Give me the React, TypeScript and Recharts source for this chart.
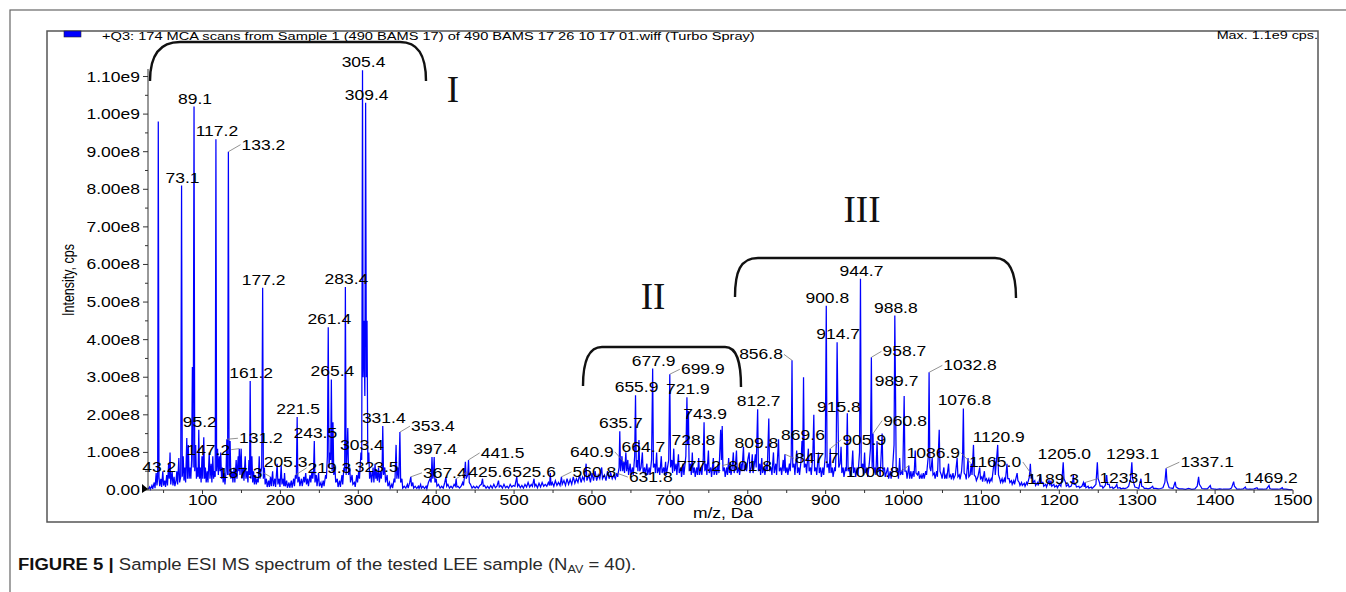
import React from "react";
import { ComposedChart, Line, Scatter, XAxis, YAxis } from "recharts";

type Pt = [number, number];

// m/z (Da) and intensity (units of 1e8 cps)
const lowMassProfile: Pt[] = [
  [30,0.02],[32,0.08],[33,0.02],[35,0.12],[36,0.03],[38,0.2],[39,0.05],[40.5,0.45],[41.5,0.12],[42.4,0.3],[43.2,9.8],[44.1,0.35],[45,0.1],[46.5,0.3],[47.5,0.08],[49,0.5],[50,0.12],[51.5,0.25],[52.5,0.08],[54,0.4],[55,0.12],[56.5,0.7],[57.3,0.3],[58.3,1.0],[59.2,0.15],[61,0.5],[62,0.12],[63.5,0.35],[64.5,0.1],[66,0.25],[67,0.5],[68,0.15],[69.6,0.85],[70.6,0.2],[72,0.35],[73.1,8.1],[74,0.35],[75.2,0.9],[76.2,0.25],[77.3,0.6],[78.3,0.2],[79.8,1.38],[80.7,0.3],[81.8,1.2],[82.8,0.3],[84,0.6],[85,0.3],[86,0.8],[87,3.27],[88,0.6],[89.1,10.2],[90,0.5],[91.2,1.2],[92.2,0.3],[93.5,0.6],[94.3,0.35],[95.2,1.6],[96.1,0.3],[97.2,0.6],[98.2,0.2],[99.3,0.9],[100.3,0.3],[101.6,1.4],[102.6,0.3],[103.7,0.6],[104.7,0.2],[106,0.5],[107,0.2],[108.6,1.0],[109.6,0.3],[111,0.7],[112,0.2],[113.2,0.9],[114.2,0.3],[115.5,0.5],[116.3,0.35],[117.2,9.33],[118.1,0.5],[119.3,1.1],[120.3,0.4],[121.5,0.9],[122.5,0.5],[123.4,1.0],[124.4,0.3],[125.5,0.6],[126.5,0.2],[127.8,0.45],[128.8,0.15],[130.2,0.5],[131.2,1.35],[132.2,0.4],[133.2,9.0],[134.1,0.4],[135.4,1.3],[136.4,0.3],[138,0.5],[139,0.2],[140.5,0.6],[141.5,0.2],[143.2,0.8],[144.2,0.3],[145.8,0.9],[146.5,0.5],[147.2,1.1],[148.1,0.4],[149.6,1.1],[150.6,0.3],[152.2,0.6],[153.2,0.25],[154.8,0.9],[155.8,0.3],[157.3,0.5],[158.3,0.2],[159.6,0.8],[160.4,0.4],[161.2,2.9],[162.1,0.3],[163.4,0.9],[164.4,0.2],[165.6,0.5],[166.6,0.15],[168,0.4],[169,0.15],[170.5,0.3],[171.5,0.2],[172.8,0.9],[173.8,0.3],[175,0.5],[176,0.6],[177.2,5.38],[178.1,0.3],[179.4,0.6],[180.4,0.15],[182,0.3],[183,0.08],[184.8,0.25],[185.8,0.08],[187.3,0.35],[188.3,0.1],[190,0.5],[191,0.1],[192.8,0.3],[193.8,0.08],[195.8,0.7],[196.8,0.15],[198.4,0.3],[199.4,0.08],[201,0.65],[202,0.15],[203.5,0.3],[204.4,0.1],[205.3,0.45],[206.3,0.1],[208,0.25],[209,0.06],[211,0.2],[212,0.06],[214,0.25],[215,0.06],[217,0.3],[218,0.1],[219.3,0.4],[220.4,0.3],[221.5,1.94],[222.4,0.2],[224,0.35],[225,0.1],[227,0.3],[228,0.1],[230,0.35],[231,0.2],[232.5,0.45],[233.5,0.15],[235,0.3],[236,0.1],[238,0.4],[239,0.2],[240.5,0.5],[241.5,0.3],[242.5,0.5],[243.5,1.3],[244.4,0.2],[246,0.4],[247,0.1],[249,0.45],[250,0.1],[252,0.2],[253,0.06],[255,0.25],[256,0.1],[258,0.4],[259,0.3],[260.3,0.9],[261.4,4.33],[262.4,0.6],[263.5,1.0],[264.5,0.8],[265.4,2.94],[266.4,0.5],[267.5,1.8],[268.5,0.4],[270,0.6],[271,0.2],[273,0.3],[274,0.08],[276,0.25],[277,0.08],[279,0.4],[280,0.15],[281.5,0.6],[282.5,0.5],[283.4,5.4],[284.4,0.4],[285.5,1.0],[286.5,1.65],[287.5,0.4],[289,0.6],[290,0.2],[292,0.4],[293,0.15],[295,0.2],[296,0.08],[298,0.4],[299,0.2],[300.5,0.5],[301.5,0.3],[303.4,1.0],[304.4,0.8],[305.4,11.17],[306.2,3.0],[307.2,4.5],[308.4,2.5],[309.4,10.3],[310.3,3.0],[311.2,4.5],[312.2,0.7],[313.5,1.0],[314.5,0.3],[316,0.5],[317,0.2],[319,0.6],[320,0.2],[321.5,0.7],[322.5,0.3],[323.5,0.5],[324.5,0.25],[326,0.6],[327,0.2],[328.5,0.5],[329.5,0.3],[330.5,0.5],[331.4,1.7],[332.4,0.4],[334,0.6],[335,0.2],[337,0.4],[338,0.1],[340,0.2],[341,0.05],[343,0.15],[344,0.05],[346,0.3],[347,0.2],[348.5,1.2],[349.5,0.3],[351,0.6],[352,0.3],[353.4,1.54],[354.4,0.2],[356,0.3],[357,0.05],[359,0.1],[361,0.05],[363,0.15],[364,0.05],[366,0.2],[367.4,0.35],[368.4,0.1],[370,0.2],[371,0.05],[373,0.1],[375,0.04],[377,0.1],[378,0.04],[380,0.15],[381,0.05],[383,0.1],[385,0.04],[387,0.1],[388,0.03],[390,0.2],[392,0.3],[393.5,0.2],[394.6,0.88],[395.6,0.3],[396.5,0.4],[397.4,0.88],[398.4,0.2],[400,0.3],[401,0.1],[403,0.15],[405,0.05],[407,0.1],[409,0.05],[411,0.2],[412.5,0.35],[413.5,0.1],[415,0.15],[417,0.05],[419,0.1],[421,0.05],[423,0.15],[424.5,0.1],[425.6,0.3],[426.6,0.08],[428,0.1],[430,0.05],[432,0.1],[434,0.2],[435,0.12],[436,0.3],[437.5,0.75],[438.5,0.3],[440.5,0.4],[441.5,0.8],[442.5,0.2],[444,0.15],[446,0.05],[448,0.1],[450,0.05],[452,0.1],[454,0.05],[456,0.12],[458,0.15],[459.5,0.3],[460.5,0.1],[462,0.12],[464,0.05],
];

const midMassProfile: Pt[] = [
  [466,0.1],[468,0.04],[470,0.12],[472,0.05],[474,0.15],[476,0.06],[478,0.1],[480,0.25],[481,0.08],[483,0.12],[485,0.05],[487,0.15],[489,0.06],[491,0.1],[493,0.05],[495,0.15],[497,0.08],[499,0.12],[501,0.1],[503.5,0.35],[504.5,0.1],[506,0.15],[508,0.06],[510,0.12],[512,0.05],[514,0.15],[516,0.08],[518,0.2],[520,0.08],[522,0.15],[523.5,0.1],[525.6,0.3],[526.6,0.1],[528,0.15],[530,0.06],[532,0.18],[534,0.08],[536,0.2],[538,0.1],[540,0.15],[542,0.1],[544,0.2],[545.5,0.12],[546.5,0.45],[547.5,0.12],[549,0.2],[551,0.1],[553,0.25],[555,0.12],[557,0.2],[559,0.12],[560.8,0.35],[561.8,0.15],[564,0.25],[566,0.12],[568,0.3],[570,0.15],[572,0.28],[574,0.15],[576,0.35],[578,0.18],[580,0.3],[582,0.2],[584,0.4],[586,0.2],[588,0.35],[590,0.25],[592.5,0.7],[593.5,0.25],[596,0.4],[598,0.2],[600,0.45],[602,0.25],[604,0.5],[606,0.25],[608,0.4],[610,0.3],[612.5,0.6],[613.5,0.3],[616,0.4],[618,0.25],[620,0.5],[622,0.3],[624,0.45],[626,0.3],[628,0.4],[630,0.3],[631.8,0.45],[633,0.35],[634.8,0.6],[635.7,1.56],[636.7,0.5],[638.5,0.9],[639.5,0.5],[640.9,0.75],[641.8,0.45],[643.5,1.0],[644.5,0.5],[646,0.8],[647,0.4],[649,0.7],[650,0.4],[652,0.6],[653,0.4],[654.8,0.9],[655.9,2.52],[656.9,0.6],[658,0.8],[659,0.5],[660.3,1.33],[661.3,0.5],[663,0.6],[664.7,1.0],[665.7,0.45],[667.5,0.6],[668.5,0.4],[670.5,0.7],[671.5,0.4],[673.5,0.6],[674.5,0.4],[676.5,0.8],[677.9,3.23],[678.9,0.6],[680.5,0.7],[681.5,0.45],[683,1.0],[684,0.45],[686,0.6],[687,0.4],[689,0.9],[690,0.45],[692,0.6],[693,0.4],[694.5,0.75],[695.5,0.4],[697,0.6],[698.5,0.8],[699.9,3.08],[700.9,0.6],[702.5,0.8],[703.5,0.45],[705,1.1],[706,0.5],[708,0.7],[709,0.4],[711,0.95],[712,0.45],[714,0.6],[715,0.35],[717,0.7],[718,0.4],[720.5,0.9],[721.9,2.47],[722.8,1.2],[723.8,2.1],[724.8,0.5],[726.5,0.7],[727.5,0.4],[728.8,1.0],[729.8,0.45],[731.5,0.6],[732.5,0.35],[734.5,0.6],[735.5,0.4],[737,0.85],[738,0.4],[740,0.6],[741,0.4],[742.8,0.8],[743.9,1.8],[744.9,0.5],[746.5,0.7],[747.5,0.4],[749.5,1.05],[750.5,0.45],[752.5,0.6],[753.5,0.35],[755.8,0.85],[756.8,0.4],[759,0.6],[760,0.4],[762,0.7],[763,0.45],[765.2,1.6],[766.2,0.8],[767.2,1.7],[768.2,0.5],[770,0.6],[771,0.35],[773,0.6],[774,0.4],[775.5,0.85],[776.5,0.45],[777.2,0.7],[778.5,0.4],[780,0.6],[781.5,1.0],[782.5,0.45],[784,0.6],[785.5,1.05],[786.5,0.45],[788.5,0.6],[789.5,0.4],[791.5,0.7],[792.5,0.5],[794.5,1.15],[795.5,0.5],[797.5,0.7],[798.5,0.5],[800,0.8],[801.8,1.0],[802.8,0.45],[804.5,0.6],[805.8,0.95],[806.8,0.45],[808.5,0.7],[809.8,0.95],[810.8,0.6],[812.7,2.15],[813.7,0.5],[815.5,0.7],[816.5,0.4],[818,0.85],[819,0.45],[821,0.6],[822,0.4],[824,0.7],[825,0.5],[827,1.9],[828,0.5],[830,0.6],[831,0.4],[833,1.0],[834,0.45],[836,0.7],[837,0.4],[839.5,1.35],[840.5,0.5],[842.5,0.6],[843.5,0.4],[845.5,0.8],[846.5,0.5],[847.7,0.95],[848.7,0.45],[850.5,0.6],[851.5,0.4],[853.5,0.7],[854.5,0.5],[855.8,0.9],[856.8,3.45],[857.8,0.6],[859.5,0.7],[860.5,0.4],[862.8,1.05],[863.8,0.45],[865.5,0.6],[866.5,0.4],[868.5,0.8],[869.6,1.3],[870.6,0.9],[871.6,3.0],[872.6,0.6],[874.5,0.7],[875.5,0.45],[877.8,1.1],[878.8,0.5],[880.5,0.6],[881.5,0.4],[883.5,0.9],[884.8,2.0],[885.8,0.5],[887.5,0.6],[888.5,0.4],[890.8,1.0],[891.8,0.45],[893.5,0.6],[894.5,0.35],[896.5,0.6],[897.5,0.4],[899.5,0.9],[900.8,4.9],[901.8,0.6],[903.5,0.7],[904.5,0.45],[905.9,1.1],[906.9,0.45],[908.5,0.6],[909.5,0.35],[911.5,0.6],[912.5,0.5],[913.6,1.2],[914.7,3.93],[915.8,2.0],[916.8,0.6],[918.5,0.7],[919.8,1.15],[920.8,0.45],[922.5,0.6],[923.5,0.35],[925.5,0.6],[926.5,0.5],[927.8,2.04],[928.8,0.5],[930.5,0.6],[931.5,0.35],[933.5,0.6],[934.8,1.05],[935.8,0.45],[937.5,0.6],[938.5,0.35],[940.5,0.6],[941.5,0.4],[943.5,1.0],[944.7,5.62],[945.7,0.6],[947.5,0.7],[948.5,0.4],[950,1.0],[951,0.45],[953,0.6],[954,0.35],[956,0.7],[957.5,1.1],[958.7,3.53],[959.7,0.6],[960.8,1.5],[961.8,0.45],[963.5,0.6],[964.5,0.4],[966,1.3],[967,0.5],[969,0.6],[970,0.35],[972.5,1.5],[973.5,0.5],[975.5,0.6],[976.5,0.35],[978.5,0.5],[979.8,0.6],[980.8,0.3],[983,0.5],[984,0.3],[986,0.6],[987.8,1.2],[988.8,4.64],[989.7,2.6],[990.6,0.5],[992.5,0.5],[993.5,0.3],[995,0.85],[996,0.4],[998,0.5],[999,0.4],[1000.8,2.5],[1001.8,0.5],[1003.5,0.5],[1004.5,0.3],[1006.8,0.65],[1007.8,0.3],
];

const highMassProfile: Pt[] = [
  [1009.5,0.5],[1010.5,0.3],[1012.5,0.5],[1013.5,0.35],[1015,1.05],[1016,0.45],[1018,0.4],[1019.5,0.5],[1020.5,0.3],[1022.5,0.4],[1023.5,0.3],[1025.5,0.45],[1026.5,0.3],[1028.5,0.5],[1029.5,0.4],[1031.8,0.9],[1032.8,3.13],[1033.8,0.6],[1035,0.5],[1036.8,0.85],[1037.8,0.4],[1039.5,0.45],[1040.5,0.3],[1042.5,0.5],[1043.5,0.35],[1045.8,1.6],[1046.8,0.5],[1048.5,0.4],[1049.5,0.3],[1051.8,0.6],[1052.8,0.3],[1054.5,0.4],[1055.5,0.3],[1057.8,0.7],[1058.8,0.35],[1060.5,0.4],[1061.5,0.28],[1063.5,0.45],[1064.5,0.3],[1066.5,0.4],[1068.8,0.85],[1069.8,0.35],[1071.5,0.4],[1072.5,0.28],[1074.5,0.5],[1075.8,0.9],[1076.8,2.17],[1077.8,0.45],[1079.5,0.4],[1080.5,0.28],[1082.8,0.85],[1083.8,0.35],[1085.5,0.4],[1086.9,0.7],[1087.9,0.4],[1089.8,1.2],[1090.8,0.4],[1092.5,0.35],[1093.5,0.25],[1095.5,0.35],[1097.8,0.6],[1098.8,0.3],[1100.5,0.35],[1101.5,0.22],[1103.8,0.5],[1104.8,0.25],[1106.5,0.3],[1107.5,0.2],[1109.5,0.3],[1110.5,0.2],[1112.5,0.3],[1113.5,0.25],[1116.8,0.85],[1117.8,0.4],[1120.9,1.2],[1121.9,0.4],[1123.5,0.3],[1124.5,0.2],[1126.5,0.3],[1127.5,0.2],[1129.5,0.3],[1130.5,0.2],[1132.8,0.7],[1133.8,0.3],[1135.5,0.3],[1136.5,0.2],[1138.5,0.25],[1139.5,0.15],[1141.5,0.25],[1142.5,0.15],[1145.8,0.45],[1146.8,0.25],[1148.5,0.2],[1149.5,0.12],[1151.5,0.2],[1152.5,0.12],[1155,0.18],[1156,0.1],[1158,0.2],[1159,0.15],[1161.5,0.35],[1162.8,0.7],[1163.8,0.3],[1165,0.4],[1166.5,0.2],[1168.5,0.25],[1169.5,0.12],[1172,0.2],[1173,0.12],[1175.8,0.4],[1176.8,0.2],[1179,0.2],[1180,0.1],[1182.5,0.15],[1183.5,0.08],[1186.8,0.25],[1187.8,0.12],[1189.3,0.25],[1190.3,0.1],[1193,0.15],[1194,0.08],[1196.5,0.12],[1197.5,0.06],[1200,0.15],[1202,0.1],[1203.8,0.4],[1205,0.74],[1206,0.3],[1208,0.2],[1209,0.1],[1211.5,0.15],[1212.5,0.08],[1215,0.1],[1217,0.2],[1218,0.4],[1219,0.15],[1221,0.15],[1222,0.08],[1225,0.1],[1226,0.06],[1229,0.1],[1231,0.2],[1232,0.08],[1233.1,0.2],[1234.1,0.06],[1237,0.1],[1238,0.05],[1241,0.08],[1242,0.04],[1245,0.1],[1247,0.15],[1248.8,0.74],[1249.8,0.3],[1251.5,0.2],[1252.5,0.1],[1255,0.1],[1256,0.05],[1259,0.12],[1260.8,0.4],[1261.8,0.15],[1264,0.15],[1265,0.06],[1268,0.08],[1269,0.04],[1272,0.08],[1273.8,0.15],[1274.8,0.05],[1278,0.06],[1279,0.03],[1282,0.05],[1284,0.04],[1287,0.06],[1289,0.1],[1291.5,0.3],[1293.1,0.74],[1294.1,0.3],[1296,0.15],[1297,0.08],[1300,0.06],[1302,0.04],[1304.8,0.3],[1305.8,0.1],[1308,0.08],[1309,0.04],[1312,0.04],[1314,0.03],[1317,0.05],[1319.8,0.1],[1320.8,0.04],[1324,0.04],[1327,0.03],[1330,0.04],[1333,0.06],[1335.5,0.2],[1337.1,0.58],[1338.1,0.25],[1340,0.12],[1341,0.06],[1344,0.05],[1346,0.04],[1348.8,0.22],[1349.8,0.08],[1352,0.05],[1354,0.03],[1358,0.03],[1362,0.02],[1366,0.04],[1370,0.02],[1374,0.03],[1377,0.1],[1378.8,0.35],[1379.8,0.15],[1382,0.08],[1383,0.04],[1386,0.03],[1390,0.03],[1393.8,0.12],[1394.8,0.04],[1398,0.03],[1402,0.02],[1406,0.03],[1410,0.02],[1414,0.02],[1418,0.02],[1421,0.05],[1423.8,0.22],[1424.8,0.1],[1427,0.05],[1428,0.02],[1432,0.02],[1436,0.03],[1438.8,0.08],[1439.8,0.03],[1443,0.02],[1447,0.02],[1450,0.03],[1453.8,0.06],[1454.8,0.02],[1458,0.02],[1462,0.02],[1466,0.03],[1469.2,0.12],[1470.2,0.04],[1473,0.02],[1477,0.02],[1481,0.02],[1484,0.03],[1486.2,0.06],[1487.2,0.02],[1491,0.02],[1495,0.01],[1499,0.01],
];

const peakLabels = [
  "43.2","73.1","89.1","95.2","117.2","131.2","133.2","147.2","161.2","177.2","187.3","205.3","219.3","221.5","243.5",
  "261.4","265.4","283.4","303.4","305.4","309.4","323.5","331.4","353.4","367.4","397.4","425.6","441.5","525.6",
  "560.8","631.8","635.7","640.9","655.9","664.7","677.9","699.9","721.9","728.8","743.9","777.2","801.8","809.8",
  "812.7","847.7","856.8","869.6","900.8","905.9","914.7","915.8","944.7","958.7","960.8","988.8","989.7","1006.8",
  "1032.8","1076.8","1086.9","1120.9","1165.0","1189.3","1205.0","1233.1","1293.1","1337.1","1469.2",
];

const xMajorTicks = [100,200,300,400,500,600,700,800,900,1000,1100,1200,1300,1400,1500];
const xMinorTicks = [50,150,250,350,450,550,650,750,850,950,1050,1150,1250,1350,1450];
const xTickLabels = ["100","200","300","400","500","600","700","800","900","1000","1100","1200","1300","1400","1500"];
const yMajorTicks = [0,1,2,3,4,5,6,7,8,9,10,11];
const yMinorTicks = [0.5,1.5,2.5,3.5,4.5,5.5,6.5,7.5,8.5,9.5,10.5];
const yTickLabels = ["0.00","1.00e8","2.00e8","3.00e8","4.00e8","5.00e8","6.00e8","7.00e8","8.00e8","9.00e8","1.00e9","1.10e9"];

// label placement styles (pixel offsets of the label baseline-centre from its peak)
const labelOffsets: Record<string, [number, number]> = {
  "43.2": [1, 350], "133.2": [35, -2], "131.2": [34, 4], "147.2": [-31, 6], "187.3": [-30, 1], "205.3": [1, -6],
  "219.3": [34, -2], "303.4": [1, -2], "323.5": [0, 1], "353.4": [33, -1], "367.4": [34, 1], "425.6": [34, -2],
  "441.5": [34, -2], "525.6": [0, -2], "560.8": [33, 0], "631.8": [34, 9], "640.9": [-32, -5], "664.7": [1, 0],
  "699.9": [33, 0], "728.8": [1, -7], "777.2": [-31, 7], "801.8": [1, 19], "809.8": [1, -6], "847.7": [32, 9],
  "856.8": [-31, -1], "869.6": [1, -1], "905.9": [34, -4], "958.7": [33, -1], "960.8": [32, -8], "989.7": [1, -6],
  "1006.8": [-36, 11], "1032.8": [41, -2], "1086.9": [-38, -6], "1165.0": [-37, -8], "1189.3": [2, 3],
  "1233.1": [41, 1], "1337.1": [41, -1], "1469.2": [2, -2],
};

const spectrum = [...lowMassProfile, ...midMassProfile, ...highMassProfile].map(([mz, i]) => ({ mz, i }));
const labelPoints = peakLabels.map((text) => {
  const mz = parseFloat(text);
  const hit = spectrum.find((p) => Math.abs(p.mz - mz) < 1e-6);
  return { mz, i: hit ? hit.i : 0, text };
});

const FONT = '"Liberation Sans", Arial, Helvetica, sans-serif';
const SX = 1.25;
const yTicks = [...yMajorTicks, ...yMinorTicks].sort((a, b) => a - b);
const xTicks = [...xMajorTicks, ...xMinorTicks].sort((a, b) => a - b);

function SText(props: { x: number; y: number; size: number; anchor?: string; fill?: string; children: React.ReactNode }) {
  const { x, y, size, anchor = "start", fill = "#000", children } = props;
  return (
    <text transform={`translate(${x} ${y}) scale(${SX} 1)`} fontSize={size} fontFamily={FONT} textAnchor={anchor as any} fill={fill}>
      {children}
    </text>
  );
}

const YTick = (props: any) => {
  const { x, y, payload } = props;
  const v = payload.value as number;
  const idx = yMajorTicks.indexOf(v);
  if (idx < 0) {
    return <line x1={x - 3} x2={x} y1={y} y2={y} stroke="#333" strokeWidth={1} />;
  }
  return (
    <g>
      <line x1={x - 5} x2={x} y1={y} y2={y} stroke="#333" strokeWidth={1} />
      <SText x={x - 8} y={y + 5} size={14} anchor="end">{yTickLabels[idx]}</SText>
      {v === 0 ? <polygon points={`${x - 6},${y - 6} ${x},${y - 1} ${x - 6},${y + 3}`} fill="#000" /> : null}
    </g>
  );
};

const XTick = (props: any) => {
  const { x, y, payload } = props;
  const v = payload.value as number;
  const idx = xMajorTicks.indexOf(v);
  if (idx < 0) {
    return <line x1={x} x2={x} y1={y} y2={y + 3} stroke="#333" strokeWidth={1} />;
  }
  return (
    <g>
      <line x1={x} x2={x} y1={y} y2={y + 4} stroke="#333" strokeWidth={1} />
      <SText x={x} y={y + 15} size={14} anchor="middle">{xTickLabels[idx]}</SText>
    </g>
  );
};

const LabelMark = (props: any) => {
  const { cx, cy, payload } = props;
  if (cx == null || cy == null) return <g />;
  const text: string = payload.text;
  const [dx, dy] = labelOffsets[text] || [1, -3];
  const digits = text.replace(".", "").length;
  const w = (digits * 0.556 + 0.278) * 14 * SX;
  const tx = cx + dx;
  const ty = cy + dy;
  let leader = null;
  if (Math.abs(dx) > 15) {
    const ex = dx > 0 ? tx - w / 2 - 1 : tx + w / 2 + 1;
    leader = <line x1={cx} y1={cy} x2={ex} y2={ty - 5} stroke="#777" strokeWidth={0.8} />;
  }
  return (
    <g>
      {leader}
      <SText x={tx} y={ty} size={14} anchor="middle">{text}</SText>
    </g>
  );
};

export default function App() {
  return (
    <div style={{ position: "relative", width: 1346, height: 592, background: "#fff", overflow: "hidden" }}>
      <style>{`html,body{margin:0;padding:0;overflow:hidden;background:#fff}`}</style>
      <div style={{ position: "absolute", left: 0, top: 0 }}>
        <ComposedChart width={1346} height={592} margin={{ top: 69, right: 53, bottom: 72, left: 88 }}>
          <XAxis
            dataKey="mz"
            type="number"
            domain={[30, 1500]}
            ticks={xTicks}
            interval={0}
            tickSize={0}
            tickMargin={0}
            tickLine={false}
            axisLine={{ stroke: "#333", strokeWidth: 1 }}
            tick={(p: any) => <XTick {...p} />}
            height={30}
          />
          <YAxis
            type="number"
            domain={[0, 11.2]}
            ticks={yTicks}
            interval={0}
            tickSize={0}
            tickMargin={0}
            tickLine={false}
            axisLine={{ stroke: "#333", strokeWidth: 1 }}
            tick={(p: any) => <YTick {...p} />}
            width={60}
          />
          <Line
            data={spectrum}
            dataKey="i"
            type="linear"
            stroke="#0000ff"
            strokeWidth={1.25}
            dot={false}
            activeDot={false}
            isAnimationActive={false}
            legendType="none"
          />
          <Scatter
            data={labelPoints}
            dataKey="i"
            isAnimationActive={false}
            legendType="none"
            shape={(p: any) => <LabelMark {...p} />}
          />
        </ComposedChart>
      </div>
      <svg width={1346} height={592} style={{ position: "absolute", left: 0, top: 0, pointerEvents: "none" }}>
        <rect x={10} y={10} width={1400} height={700} fill="none" stroke="#666" strokeWidth={1.2} />
        <rect x={47} y={31} width={1271} height={491} fill="none" stroke="#555" strokeWidth={1.5} />
        <rect x={64} y={31} width={17} height={6} fill="#0000ff" stroke="#223" strokeWidth={0.6} />
        <SText x={102} y={40} size={11.7}>+Q3: 174 MCA scans from Sample 1 (490 BAMS 17) of 490 BAMS 17 26 10 17 01.wiff (Turbo Spray)</SText>
        <SText x={1318} y={39} size={11.5} anchor="end">Max. 1.1e9 cps.</SText>
        <path d="M150,81 C150,55 160,42 180,42 L400,42 C418,42 426,55 426,81" fill="none" stroke="#111" strokeWidth={2.4} />
        <path d="M583,386 C583,362 588,347 602,347 L725,347 C737,347 741,362 741,387" fill="none" stroke="#111" strokeWidth={2.4} />
        <path d="M735,297 C735,272 740,258 758,258 L995,258 C1010,258 1016,272 1016,298" fill="none" stroke="#111" strokeWidth={2.4} />
        <text x={453} y={102} fontSize={37} fontFamily='"Liberation Serif", "Times New Roman", serif' textAnchor="middle" fill="#111">I</text>
        <text x={653} y={309} fontSize={37} fontFamily='"Liberation Serif", "Times New Roman", serif' textAnchor="middle" fill="#111">II</text>
        <text x={862} y={222} fontSize={37} fontFamily='"Liberation Serif", "Times New Roman", serif' textAnchor="middle" fill="#111">III</text>
        <text transform={`translate(74 280) scale(${SX} 1) rotate(-90)`} fontSize={12.5} fontFamily={FONT} textAnchor="middle" fill="#000">Intensity, cps</text>
        <SText x={723} y={518} size={14} anchor="middle">m/z, Da</SText>
        <text x={18} y={570} fontSize={17} fontFamily={FONT} fill="#2a2a2a" transform="translate(18 0) scale(1.09 1) translate(-18 0)">
          <tspan fontWeight="bold" fill="#111">FIGURE 5 | </tspan>
          <tspan>Sample ESI MS spectrum of the tested LEE sample (N</tspan>
          <tspan fontSize={11.5} dy={3}>AV</tspan>
          <tspan dy={-3}> = 40).</tspan>
        </text>
      </svg>
    </div>
  );
}
